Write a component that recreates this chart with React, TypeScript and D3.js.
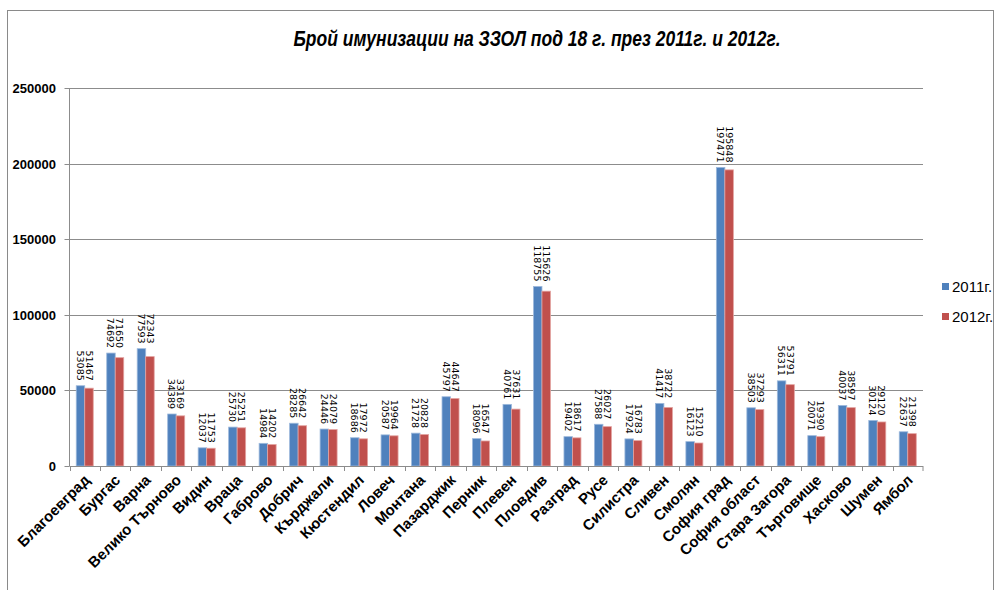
import React from "react";
import * as d3 from "d3";

const categories = [
  "Благоевград", "Бургас", "Варна", "Велико Търново", "Видин", "Враца", "Габрово",
  "Добрич", "Кърджали", "Кюстендил", "Ловеч", "Монтана", "Пазарджик", "Перник",
  "Плевен", "Пловдив", "Разград", "Русе", "Силистра", "Сливен", "Смолян",
  "София град", "София област", "Стара Загора", "Търговище", "Хасково", "Шумен", "Ямбол",
];
const values2011 = [
  53085, 74692, 77593, 34389, 12037, 25730, 14984, 28285, 24446, 18686, 20587, 21728,
  45797, 18096, 40761, 118755, 19402, 27588, 17924, 41417, 16123, 197471, 38503, 56311,
  20071, 40037, 30124, 22637,
];
const values2012 = [
  51467, 71650, 72343, 33169, 11753, 25251, 14202, 26642, 24079, 17972, 19964, 20828,
  44647, 16547, 37631, 115626, 18617, 26027, 16783, 38722, 15210, 195848, 37293, 53791,
  19390, 38597, 29120, 21398,
];
const yTicks = [0, 50000, 100000, 150000, 200000, 250000];
const seriesNames = ["2011г.", "2012г."];
const title = "Брой имунизации на ЗЗОЛ под 18 г. през 2011г. и 2012г.";

const BLUE = "#4F81BD";
const RED = "#C0504D";
const BLUE_EDGE = "#9DB9DC";
const RED_EDGE = "#E3A3A1";

export default function App() {
  const W = 1001, H = 590;
  const left = 69.5, right = 923, top = 88, bottom = 466;
  const x = d3.scaleBand<string>().domain(categories).range([left, right]).paddingInner(0).paddingOuter(0);
  const y = d3.scaleLinear().domain([0, 250000]).range([bottom, top]);
  const bw = 8.5;
  const labelFont = "'DejaVu Sans', Verdana, sans-serif";
  const axisFont = "'Liberation Sans Narrow', 'Liberation Sans', Arial, sans-serif";

  return (
    <svg width={W} height={H} style={{ position: "absolute", left: 0, top: 0 }}>
      <rect x={0} y={0} width={W} height={H} fill="#fff" />
      <rect x={7.5} y={10.5} width={986} height={600} fill="none" stroke="#8a8a8a" strokeWidth={1} />
      <text
        x={537}
        y={46}
        textAnchor="middle"
        fontFamily={axisFont}
        fontWeight="bold"
        fontStyle="italic"
        fontSize={22}
        textLength={487}
        lengthAdjust="spacingAndGlyphs"
        fill="#000"
      >
        {title}
      </text>
      {yTicks.map((t) => (
        <g key={t}>
          {t > 0 && (
            <line x1={left} x2={right} y1={Math.round(y(t)) + 0.5} y2={Math.round(y(t)) + 0.5} stroke="#8c8c8c" strokeWidth={1} />
          )}
          <line x1={left - 5} x2={left} y1={Math.round(y(t)) + 0.5} y2={Math.round(y(t)) + 0.5} stroke="#8c8c8c" />
          <text
            x={56}
            y={Math.round(y(t)) + 0.5}
            dy="0.35em"
            textAnchor="end"
            fontFamily={axisFont}
            fontWeight="bold"
            fontSize={13}
            fill="#000"
          >
            {t}
          </text>
        </g>
      ))}
      {categories.map((c, i) => {
        const cx = (x(c) as number) + x.bandwidth() / 2;
        const v1 = values2011[i], v2 = values2012[i];
        const topY = y(Math.max(v1, v2));
        return (
          <g key={c}>
            <rect x={cx - bw} y={y(v1)} width={bw} height={bottom - y(v1)} fill={BLUE} stroke={BLUE_EDGE} strokeWidth={0.8} />
            <rect x={cx} y={y(v2)} width={bw} height={bottom - y(v2)} fill={RED} stroke={RED_EDGE} strokeWidth={0.8} />
            <g transform={`translate(${cx},${topY - 5}) rotate(90)`} fontFamily={labelFont} fontSize={9.5} fill="#000">
              <text x={0} y={-4.5} dy="0.35em" textAnchor="end">{v2}</text>
              <text x={0} y={4.5} dy="0.35em" textAnchor="end">{v1}</text>
            </g>
          </g>
        );
      })}
      <line x1={left} x2={left} y1={top} y2={bottom} stroke="#8c8c8c" />
      <line x1={left} x2={right} y1={bottom + 0.5} y2={bottom + 0.5} stroke="#8c8c8c" />
      {categories.map((c, i) => (
        <line key={"t" + i} x1={Math.round(x(c) as number) + 0.5} x2={Math.round(x(c) as number) + 0.5} y1={bottom} y2={bottom + 5} stroke="#8c8c8c" />
      ))}
      <line x1={right} x2={right} y1={bottom} y2={bottom + 5} stroke="#8c8c8c" />
      {categories.map((c) => {
        const cx = (x(c) as number) + x.bandwidth() / 2;
        return (
          <text
            key={"l" + c}
            transform={`translate(${cx + 6},${bottom + 15}) rotate(-45)`}
            textAnchor="end"
            fontFamily={axisFont}
            fontWeight="bold"
            fontSize={15}
            fill="#000"
          >
            {c}
          </text>
        );
      })}
      {seriesNames.map((s, i) => (
        <g key={s} transform={`translate(942,${283 + i * 30})`}>
          <rect x={0} y={0} width={7} height={7} fill={i === 0 ? BLUE : RED} />
          <text x={10} y={3.5} dy="0.35em" fontFamily={axisFont} fontSize={15} fill="#000">{s}</text>
        </g>
      ))}
    </svg>
  );
}
